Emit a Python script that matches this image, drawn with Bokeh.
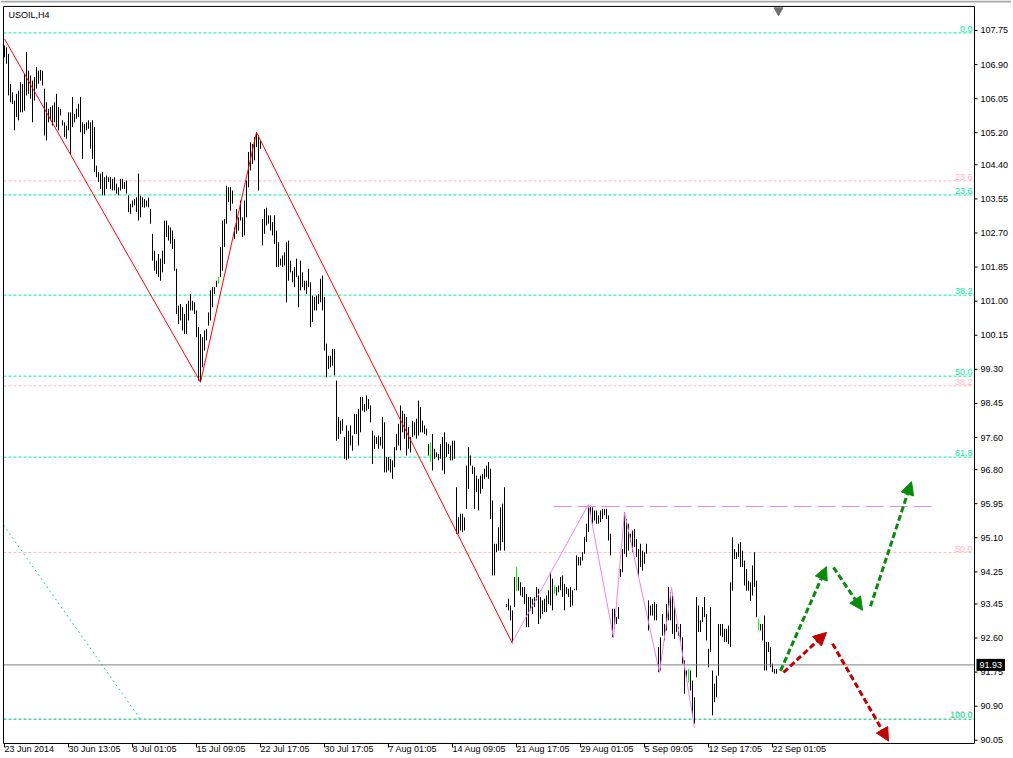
from bokeh.plotting import figure
from bokeh.models import Range1d, Label, Arrow, NormalHead
from bokeh.embed import file_html
from bokeh.resources import INLINE
from bokeh.core.properties import value

# ---------------- data ----------------
symbol = "USOIL,H4"

highs = [
    107.38, 107.33, 107.17, 106.42, 106.21, 106.00, 106.17, 106.25, 106.46, 106.42,
    106.67, 107.21, 106.75, 106.63, 106.50, 106.59, 106.84, 106.75, 106.77, 106.75,
    106.30, 105.96, 105.80, 105.84, 105.88, 105.96, 106.17, 105.84, 105.80, 105.51,
    105.46, 105.38, 105.71, 105.71, 106.09, 105.67, 105.80, 105.92, 106.09, 105.46,
    105.42, 105.46, 105.51, 105.46, 105.51, 105.34, 104.38, 104.22, 104.18, 104.22,
    104.09, 104.13, 104.09, 104.09, 104.05, 104.09, 103.93, 103.84, 104.05, 104.05,
    103.97, 104.01, 103.64, 103.43, 103.51, 103.55,
    103.59, 104.18, 103.63, 103.59, 103.55, 103.51, 103.58, 103.30, 102.68, 102.26,
    102.01, 102.18, 102.06, 102.26, 103.01, 103.01, 102.89, 102.84, 102.76, 102.55,
    101.81, 100.89, 100.93, 100.85, 100.68, 100.93, 101.01, 101.18, 101.01, 100.97,
    100.77, 100.35, 100.18, 100.10, 100.27, 100.31, 100.72, 101.27, 101.35, 101.35,
    101.51, 101.60, 102.35, 103.01, 103.05, 103.88, 103.84, 103.84, 103.76, 102.84,
    103.30, 103.09, 103.51, 103.09, 103.51, 104.01, 104.72, 104.96, 104.92, 105.09,
    105.21, 105.13, 105.01,
    103.05, 103.30, 103.33, 103.14, 103.14, 102.97, 103.14, 102.76, 102.47, 102.06,
    102.14, 102.22, 102.47, 102.51, 102.01, 101.76, 101.85, 102.06, 101.64, 102.01,
    101.72, 101.51, 101.51, 101.81, 101.47, 101.14, 101.10, 101.14, 101.18, 101.56,
    101.64, 101.10, 99.94, 99.64, 99.64, 99.81, 99.81, 99.02, 98.11, 98.02,
    98.06, 97.61, 97.90, 97.77, 97.90, 97.65, 98.19, 98.19, 98.31, 98.61,
    98.61, 98.44, 98.65, 98.56, 98.40, 97.77, 97.65, 97.61, 97.65, 97.61,
    98.11, 97.98, 97.11, 97.11, 97.07, 97.03, 97.36,
    97.69, 97.94, 98.40, 98.27, 98.19, 98.11, 97.86, 97.61, 98.02, 97.98,
    98.07, 98.52, 98.36, 98.02, 97.90, 97.82, 97.44, 97.48, 97.69, 97.32,
    97.23, 97.19, 97.44, 97.61, 97.73, 97.48, 97.44, 97.40, 97.52, 97.52,
    96.36, 95.61, 95.70, 95.70, 95.61, 96.90, 97.36, 97.15, 96.90, 96.86,
    96.65, 96.57, 96.65, 96.69, 96.82, 96.90, 96.99, 96.82, 96.03, 94.95,
    94.95, 95.36, 95.86, 95.95, 96.36, 93.45, 93.58, 93.41, 93.29, 94.12,
    94.37, 94.12, 93.99, 93.87, 93.87,
    93.70, 93.62, 93.62, 93.58, 93.62, 93.87, 93.83, 93.62, 93.54, 93.58,
    93.66, 93.79, 94.24, 94.08, 93.91, 93.87, 93.91, 94.12, 94.16, 93.95,
    93.87, 93.83, 93.87, 93.79, 93.83, 94.66, 94.62, 94.62, 94.74, 95.12,
    95.45, 95.86, 95.90, 95.86, 95.78, 95.78, 95.66, 95.78, 95.82, 95.82,
    95.82, 95.66, 95.20, 93.33, 93.33, 93.12, 93.37, 94.32, 94.82, 95.74,
    95.57, 95.45, 95.20, 95.28, 95.32, 95.07, 94.82, 94.95, 94.78, 94.74,
    94.95, 93.54, 93.41, 93.45, 93.50,
    93.45, 92.37, 92.62, 93.20, 92.95, 93.45, 93.87, 93.74, 93.66, 93.37,
    92.95, 92.87, 92.95, 92.62, 92.04, 91.79, 91.83, 91.79, 91.54, 91.12,
    93.62, 93.41, 93.04, 93.37, 93.62, 93.20, 92.33, 93.37, 91.79, 91.46,
    91.66, 92.95, 92.95, 92.95, 92.83, 92.83, 92.91, 93.99, 95.11, 94.82,
    94.74, 94.95, 94.99, 94.78, 94.53, 94.32, 94.03, 93.99, 94.41, 94.74,
    94.03, 93.08, 92.95, 92.95, 93.16, 92.50, 92.50, 92.37, 91.96, 91.83,
    91.83,
]

lows = [
    107.08, 106.92, 106.13, 105.96, 105.92, 105.26, 105.59, 105.51, 105.71, 105.71,
    105.75, 106.13, 106.17, 106.05, 105.46, 106.00, 106.30, 106.42, 106.50, 106.38,
    105.13, 105.01, 105.46, 105.51, 105.38, 105.46, 105.34, 105.26, 105.63, 105.38,
    105.09, 105.05, 105.26, 104.67, 105.34, 105.46, 105.55, 105.59, 105.21, 104.55,
    105.17, 105.26, 105.30, 104.80, 104.55, 104.22, 104.09, 103.97, 103.80, 103.64,
    103.64, 103.80, 103.97, 103.80, 103.76, 103.76, 103.68, 103.64, 103.76, 103.80,
    103.80, 103.68, 103.22, 103.18, 103.34, 103.39,
    103.22, 103.01, 103.09, 103.34, 103.33, 103.36, 103.34, 102.93, 102.01, 101.76,
    101.68, 101.60, 101.51, 101.72, 101.93, 102.60, 102.51, 102.43, 102.30, 101.76,
    100.68, 100.43, 100.52, 100.27, 100.18, 100.18, 100.52, 100.77, 100.77, 100.68,
    100.10, 99.02, 98.98, 99.35, 99.77, 100.02, 100.39, 100.52, 100.85, 101.18,
    101.35, 101.43, 101.60, 101.76, 102.35, 102.93, 103.47, 103.26, 103.43, 102.55,
    102.68, 102.76, 103.01, 102.60, 102.64, 103.09, 103.84, 104.26, 104.42, 104.51,
    104.84, 103.76, 104.80,
    102.39, 102.68, 102.89, 102.93, 102.76, 102.64, 102.43, 101.85, 101.85, 101.89,
    101.85, 101.89, 100.97, 101.51, 101.72, 101.47, 101.35, 101.60, 100.85, 101.27,
    101.35, 101.27, 101.18, 101.35, 100.35, 100.48, 100.77, 100.77, 100.93, 100.97,
    100.77, 99.77, 99.10, 99.31, 99.35, 99.39, 99.15, 97.52, 97.57, 97.69,
    97.77, 97.07, 97.03, 97.07, 97.40, 97.27, 97.69, 97.69, 97.40, 97.73,
    98.27, 98.23, 98.27, 98.31, 97.98, 96.94, 97.32, 97.44, 97.32, 97.40,
    97.32, 96.73, 96.73, 96.78, 96.73, 96.57, 96.86,
    97.28, 97.40, 97.28, 97.73, 97.57, 97.15, 97.32, 97.23, 97.61, 97.65,
    97.57, 97.65, 97.73, 97.73, 97.69, 97.65, 97.15, 96.99, 96.78, 97.07,
    97.11, 97.03, 97.07, 96.78, 96.69, 97.11, 97.19, 97.03, 97.03, 97.07,
    95.20, 95.20, 95.28, 95.24, 95.28, 95.82, 96.32, 96.90, 96.69, 95.82,
    96.24, 95.78, 96.20, 96.32, 96.57, 96.61, 96.57, 95.57, 94.16, 94.16,
    94.74, 94.78, 94.78, 94.99, 94.78, 93.37, 93.29, 93.04, 92.50, 93.37,
    93.78, 93.78, 93.66, 93.62, 93.45,
    92.87, 92.87, 93.29, 93.20, 93.37, 93.54, 92.95, 93.08, 93.20, 93.25,
    93.25, 93.45, 93.41, 93.29, 93.70, 93.66, 93.74, 93.79, 93.62, 93.29,
    93.70, 93.62, 93.37, 93.41, 93.79, 93.79, 94.41, 94.41, 94.53, 94.70,
    94.99, 95.24, 95.66, 95.45, 95.53, 95.45, 95.45, 95.49, 95.57, 95.66,
    95.57, 95.03, 94.66, 92.62, 92.83, 92.95, 93.08, 94.12, 94.24, 94.70,
    94.62, 94.78, 94.99, 94.74, 94.87, 94.62, 94.16, 94.37, 94.28, 94.45,
    94.70, 92.79, 93.16, 93.16, 93.04,
    93.04, 91.75, 91.79, 92.66, 92.54, 92.79, 93.04, 93.04, 92.70, 92.58,
    92.75, 92.66, 92.50, 91.96, 91.21, 91.58, 91.50, 91.29, 90.63, 90.46,
    91.62, 92.75, 92.75, 93.00, 93.12, 92.54, 91.87, 92.25, 90.67, 91.00,
    91.12, 91.66, 92.66, 92.62, 92.50, 92.50, 92.45, 92.37, 93.78, 94.57,
    94.57, 94.62, 94.37, 94.37, 93.91, 93.78, 93.78, 93.53, 93.66, 93.87,
    93.12, 92.79, 92.79, 92.54, 91.79, 91.79, 92.25, 91.87, 91.75, 91.71,
    91.71,
]

green_bars = [107, 213, 256, 275, 342, 377]

date_ticks = [0, 32, 64, 96, 128, 160, 192, 224, 256, 288, 320, 352, 384]
date_labels = ["23 Jun 2014", "30 Jun 13:05", "8 Jul 01:05", "15 Jul 09:05",
               "22 Jul 17:05", "30 Jul 17:05", "7 Aug 01:05", "14 Aug 09:05",
               "21 Aug 17:05", "29 Aug 01:05", "5 Sep 09:05", "12 Sep 17:05",
               "22 Sep 01:05"]

price_ticks = [107.75, 106.90, 106.05, 105.20, 104.40, 103.55, 102.70, 101.85,
               101.00, 100.15, 99.30, 98.45, 97.60, 96.80, 95.95, 95.10, 94.25,
               93.45, 92.60, 91.75, 90.90, 90.05]

fib_high = 107.69
fib_low = 90.57
fib_ratios = [0.0, 23.6, 38.2, 50.0, 61.8, 100.0]
fib_base_idx = [-174, 68]

pink_levels = [104.00, 98.89, 94.73, 90.60]
pink_labels = ["23.6", "38.2", "50.0", "100.0"]

red_zz_idx = [0, 98, 126, 254]
red_zz_price = [107.54, 98.98, 105.21, 92.46]

violet_zz_idx = [254, 292, 304.5, 310, 327.5, 333.5, 345]
violet_zz_price = [92.51, 95.93, 92.61, 95.73, 91.74, 93.86, 90.37]

resist_idx = [274.5, 464]
resist_price = 95.88

last_price = 91.93

g_x0 = [388, 414.5, 433]
g_y0 = [91.78, 94.36, 93.39]
g_x1 = [411, 429, 453.5]
g_y1 = [94.38, 93.29, 96.50]

r_x0 = [389.5, 414]
r_y0 = [91.74, 92.46]
r_x1 = [411, 442]
r_y1 = [92.74, 90.03]

# ---------------- layout / styles ----------------
W, H = 1011, 757
PX_X = 2.0            # pixels per bar
PX_Y = 40.1           # pixels per price unit
X0 = -2.0             # index at the left canvas edge
Y_TOP = 108.498       # price at the top canvas edge
X1 = X0 + W / PX_X
Y0 = Y_TOP - H / PX_Y

# chart box (in data units)
L, R = -0.5, 485.0
T, B = 108.35, 89.97

FONT = value("Liberation Sans")
FS = value("9px")
GREEN_FIB = "#00EE99"
PINK_FIB = "#FFB6C1"
VIOLET = "#EE82EE"

p = figure(width=W, height=H, x_range=Range1d(X0, X1), y_range=Range1d(Y0, Y_TOP),
           output_backend="svg", toolbar_location=None,
           x_axis_location=None, y_axis_location=None,
           min_border=0, background_fill_color="white", border_fill_color="white")
p.grid.visible = False
p.outline_line_color = None

# window chrome strip at the very top
p.segment(x0=[X0], y0=[Y_TOP - 1 / PX_Y], x1=[X1], y1=[Y_TOP - 1 / PX_Y],
          line_color="#A8A8A8", line_width=2)

# pink fibonacci
p.segment(x0=[L] * len(pink_levels), y0=pink_levels, x1=[R] * len(pink_levels),
          y1=pink_levels, line_color=PINK_FIB, line_dash="3 2", line_width=1)
p.text(x=[R] * len(pink_levels), y=pink_levels, text=pink_labels,
       x_offset=-2, y_offset=-1, text_align="right", text_baseline="bottom",
       text_font=FONT, text_font_size=FS, text_color=PINK_FIB)

# green fibonacci
green_levels = [fib_high - r / 100.0 * (fib_high - fib_low) for r in fib_ratios]
green_labels = ["%.1f" % r for r in fib_ratios]
p.segment(x0=[L] * len(green_levels), y0=green_levels, x1=[R] * len(green_levels),
          y1=green_levels, line_color=GREEN_FIB, line_dash="3 2", line_width=1)
p.text(x=[R] * len(green_levels), y=green_levels, text=green_labels,
       x_offset=-2, y_offset=-1, text_align="right", text_baseline="bottom",
       text_font=FONT, text_font_size=FS, text_color=GREEN_FIB)
slope = (fib_low - fib_high) / (fib_base_idx[1] - fib_base_idx[0])
y_at_L = fib_high + (L - fib_base_idx[0]) * slope
p.line([L, fib_base_idx[1]], [y_at_L, fib_low], line_color="#20C8B8",
       line_dash="2 3", line_width=1)

# bars
idx = list(range(len(highs)))
colors = ["#00FF00" if i in green_bars else "black" for i in idx]
p.segment(x0=idx, y0=lows, x1=idx, y1=highs, line_color=colors, line_width=1)

# current price line
p.segment(x0=[L], y0=[last_price], x1=[R], y1=[last_price],
          line_color="#808080", line_width=1)

# zigzags
p.line(red_zz_idx, red_zz_price, line_color="#FF0000", line_width=1)
p.line(violet_zz_idx, violet_zz_price, line_color=VIOLET, line_width=1)
p.line(resist_idx, [resist_price, resist_price], line_color=VIOLET,
       line_dash="18 6", line_width=1)

# scenario arrows
for a, b, c, d in zip(g_x0, g_y0, g_x1, g_y1):
    p.add_layout(Arrow(end=NormalHead(size=13, fill_color="#0A8A0A",
                                      line_color="#0A8A0A"),
                       x_start=a, y_start=b, x_end=c, y_end=d,
                       line_color="#0A8A0A", line_width=3, line_dash="6 3"))
for a, b, c, d in zip(r_x0, r_y0, r_x1, r_y1):
    p.add_layout(Arrow(end=NormalHead(size=13, fill_color="#C00000",
                                      line_color="#C00000"),
                       x_start=a, y_start=b, x_end=c, y_end=d,
                       line_color="#C00000", line_width=3, line_dash="6 3"))

# chart box border (left, top, right axis line, bottom axis line)
p.segment(x0=[L, L, R, L], y0=[B, T, B, B], x1=[L, R, R, R], y1=[T, T, T, B],
          line_color="black", line_width=1)

# right price axis: ticks and labels
tick_len_x = 3 / PX_X
p.segment(x0=[R] * len(price_ticks), y0=price_ticks,
          x1=[R + tick_len_x] * len(price_ticks), y1=price_ticks,
          line_color="black", line_width=1)
p.text(x=[R] * len(price_ticks), y=price_ticks,
       text=["%.2f" % t for t in price_ticks], x_offset=6,
       text_align="left", text_baseline="middle",
       text_font=FONT, text_font_size=FS, text_color="black")

# bottom time axis: ticks and labels
tick_len_y = 4 / PX_Y
p.segment(x0=date_ticks, y0=[B] * len(date_ticks), x1=date_ticks,
          y1=[B - tick_len_y] * len(date_ticks), line_color="black", line_width=1)
p.text(x=date_ticks, y=[B] * len(date_ticks), text=date_labels,
       x_offset=0, y_offset=1, text_align="left", text_baseline="top",
       text_font=FONT, text_font_size=FS, text_color="black")

# chart shift marker
p.scatter([len(highs)], [T - 4 / PX_Y], marker="inverted_triangle", size=9,
          fill_color="#707070", line_color="#707070")

# symbol caption
p.add_layout(Label(x=L, y=T, text=symbol, x_offset=5, y_offset=-4,
                   text_align="left", text_baseline="top",
                   text_font="Liberation Sans", text_font_size="9px",
                   text_color="black"))

# last price box
p.add_layout(Label(x=R, y=last_price, text="%.2f" % last_price, x_offset=2,
                   text_align="left", text_baseline="middle",
                   text_font="Liberation Sans", text_font_size="9px",
                   text_color="white", background_fill_color="black", padding=3))

open("out.html", "w").write(file_html(p, INLINE))
